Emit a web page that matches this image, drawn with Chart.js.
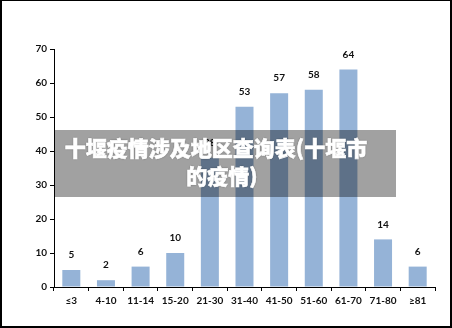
<!DOCTYPE html>
<html>
<head>
<meta charset="utf-8">
<script src="https://cdn.jsdelivr.net/npm/chart.js@4/dist/chart.umd.min.js"></script>
<style>
  html, body { margin: 0; padding: 0; background: #fff; }
  #frame {
    position: relative; width: 452px; height: 328px; box-sizing: border-box;
    border-top: 1px solid #000; border-left: 2px solid #000;
    border-right: 2px solid #000; border-bottom: 2px solid #000;
    overflow: hidden; background: #fff;
  }
  #chart { position: absolute; left: -2px; top: -1px; }
  #banner {
    position: absolute; left: 53px; top: 129px; width: 341px; height: 67px;
    background: rgba(0, 0, 0, 0.37);
  }
  .line {
    position: absolute; width: 400px; height: 28px; line-height: 28px;
    text-align: center; white-space: nowrap; color: #fff;
    font-family: "Noto Sans CJK SC", sans-serif; font-weight: 900; font-size: 21px;
    -webkit-text-stroke: 0.6px #fff;
    text-shadow: 0 0 2px rgba(0,0,0,0.45);
  }
</style>
</head>
<body>
<div id="frame">
  <canvas id="chart" width="452" height="328"></canvas>
  <div id="banner"></div>
  <div class="line" style="left: 14px; top: 132px;">十堰疫情涉及地区查询表(十堰市</div>
  <div class="line" style="left: 20px; top: 160px;">的疫情)</div>
</div>
<script>
// Age groups and number of cases in each group
const categories = ['≤3', '4-10', '11-14', '15-20', '21-30', '31-40', '41-50', '51-60', '61-70', '71-80', '≥81'];
const cases = [5, 2, 6, 10, 38, 53, 57, 58, 64, 14, 6];
const yTicks = [0, 10, 20, 30, 40, 50, 60, 70];

const labelFont = 'bold 10px Lato, "Liberation Sans", sans-serif';
const textColor = '#111';

// Writes each bar's value just above it
const valueLabels = {
  id: 'valueLabels',
  afterDatasetsDraw(chart) {
    const ctx = chart.ctx;
    const meta = chart.getDatasetMeta(0);
    ctx.save();
    ctx.font = labelFont;
    ctx.fillStyle = textColor;
    ctx.textAlign = 'center';
    ctx.textBaseline = 'middle';
    meta.data.forEach((bar, i) => {
      ctx.fillText(String(cases[i]), bar.x, bar.y - 15);
    });
    ctx.restore();
  }
};

new Chart(document.getElementById('chart'), {
  type: 'bar',
  data: {
    labels: categories,
    datasets: [{
      data: cases,
      backgroundColor: '#95b3d7',
      borderWidth: 0,
      barPercentage: 0.52,
      categoryPercentage: 1.0
    }]
  },
  options: {
    responsive: false,
    animation: false,
    events: [],
    layout: { padding: { top: 49, right: 17, left: 0, bottom: 0 } },
    plugins: { legend: { display: false }, tooltip: { enabled: false }, title: { display: false } },
    scales: {
      x: {
        offset: true,
        grid: { offset: true, drawOnChartArea: false, drawTicks: true, tickLength: 4, color: '#000', tickColor: '#000' },
        border: { display: true, color: '#000', width: 1 },
        ticks: { color: textColor, font: { family: 'Lato, "Liberation Sans", sans-serif', size: 10, weight: 'bold' }, padding: 4, maxRotation: 0, autoSkip: false },
        afterFit(scale) { scale.height = 41; }
      },
      y: {
        min: 0, max: 70,
        afterBuildTicks(scale) { scale.ticks = yTicks.map(v => ({ value: v })); },
        grid: { drawOnChartArea: false, drawTicks: true, tickLength: 4, color: '#000', tickColor: '#000' },
        border: { display: true, color: '#000', width: 1 },
        ticks: { color: textColor, font: { family: 'Lato, "Liberation Sans", sans-serif', size: 10, weight: 'bold' }, padding: 3 },
        afterFit(scale) { scale.width = 54; }
      }
    }
  },
  plugins: [valueLabels]
});
</script>
</body>
</html>
